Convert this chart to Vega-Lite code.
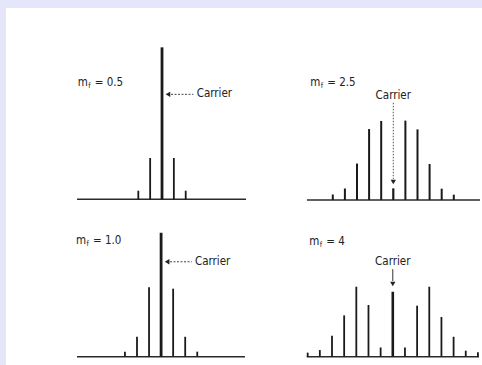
{
  "$schema": "https://vega.github.io/schema/vega-lite/v6.json",
  "width": 476,
  "height": 357,
  "autosize": "none",
  "padding": {"left": 6, "top": 8, "right": 0, "bottom": 0},
  "background": "#e6e6fa",
  "config": {"view": {"stroke": null, "fill": "white"}},
  "data": {"values": [
    {"panel": "A", "kind": "base", "x": -7.17, "x2": 7.09, "y": 0},
    {"panel": "A", "kind": "line", "x": -2, "y": 0.053},
    {"panel": "A", "kind": "line", "x": -1, "y": 0.255},
    {"panel": "A", "kind": "line", "x": 0, "y": 0.938},
    {"panel": "A", "kind": "line", "x": 1, "y": 0.255},
    {"panel": "A", "kind": "line", "x": 2, "y": 0.053},
    {"panel": "A", "kind": "arrow", "x": 0.76, "x2": 2.64, "y": 0.648},
    {"panel": "A", "kind": "head", "x": 0.5, "y": 0.648},
    {"panel": "A", "kind": "carrier", "x": 2.93, "y": 0.648, "text": "Carrier"},
    {"panel": "A", "kind": "label", "x": -7.11, "y": 0.72, "text": "= 0.5"},

    {"panel": "B", "kind": "base", "x": -7.13, "x2": 7.17, "y": 0},
    {"panel": "B", "kind": "line", "x": -5, "y": 0.034},
    {"panel": "B", "kind": "line", "x": -4, "y": 0.071},
    {"panel": "B", "kind": "line", "x": -3, "y": 0.225},
    {"panel": "B", "kind": "line", "x": -2, "y": 0.438},
    {"panel": "B", "kind": "line", "x": -1, "y": 0.488},
    {"panel": "B", "kind": "line", "x": 0, "y": 0.072},
    {"panel": "B", "kind": "line", "x": 1, "y": 0.49},
    {"panel": "B", "kind": "line", "x": 2, "y": 0.436},
    {"panel": "B", "kind": "line", "x": 3, "y": 0.222},
    {"panel": "B", "kind": "line", "x": 4, "y": 0.07},
    {"panel": "B", "kind": "line", "x": 5, "y": 0.033},
    {"panel": "B", "kind": "arrow", "x": 0, "y": 0.6, "y2": 0.13},
    {"panel": "B", "kind": "head", "x": 0, "y": 0.111},
    {"panel": "B", "kind": "carrier", "x": 0, "y": 0.64, "text": "Carrier"},
    {"panel": "B", "kind": "label", "x": -6.86, "y": 0.72, "text": "= 2.5"},

    {"panel": "C", "kind": "base", "x": -6.98, "x2": 6.96, "y": 0},
    {"panel": "C", "kind": "line", "x": -3, "y": 0.031},
    {"panel": "C", "kind": "line", "x": -2, "y": 0.123},
    {"panel": "C", "kind": "line", "x": -1, "y": 0.428},
    {"panel": "C", "kind": "line", "x": 0, "y": 0.765},
    {"panel": "C", "kind": "line", "x": 1, "y": 0.42},
    {"panel": "C", "kind": "line", "x": 2, "y": 0.123},
    {"panel": "C", "kind": "line", "x": 3, "y": 0.031},
    {"panel": "C", "kind": "arrow", "x": 0.74, "x2": 2.54, "y": 0.586},
    {"panel": "C", "kind": "head", "x": 0.5, "y": 0.586},
    {"panel": "C", "kind": "carrier", "x": 2.81, "y": 0.586, "text": "Carrier"},
    {"panel": "C", "kind": "label", "x": -7.06, "y": 0.716, "text": "= 1.0"},

    {"panel": "D", "kind": "base", "x": -7.08, "x2": 7.09, "y": 0},
    {"panel": "D", "kind": "line", "x": -7, "y": 0.025},
    {"panel": "D", "kind": "line", "x": -6, "y": 0.041},
    {"panel": "D", "kind": "line", "x": -5, "y": 0.13},
    {"panel": "D", "kind": "line", "x": -4, "y": 0.255},
    {"panel": "D", "kind": "line", "x": -3, "y": 0.432},
    {"panel": "D", "kind": "line", "x": -2, "y": 0.319},
    {"panel": "D", "kind": "line", "x": -1, "y": 0.057},
    {"panel": "D", "kind": "line", "x": 0, "y": 0.401},
    {"panel": "D", "kind": "line", "x": 1, "y": 0.057},
    {"panel": "D", "kind": "line", "x": 2, "y": 0.315},
    {"panel": "D", "kind": "line", "x": 3, "y": 0.432},
    {"panel": "D", "kind": "line", "x": 4, "y": 0.245},
    {"panel": "D", "kind": "line", "x": 5, "y": 0.123},
    {"panel": "D", "kind": "line", "x": 6, "y": 0.037},
    {"panel": "D", "kind": "line", "x": 7, "y": 0.028},
    {"panel": "D", "kind": "arrow", "x": 0, "y": 0.54, "y2": 0.467},
    {"panel": "D", "kind": "head", "x": 0, "y": 0.449},
    {"panel": "D", "kind": "carrier", "x": 0, "y": 0.586, "text": "Carrier"},
    {"panel": "D", "kind": "label", "x": -6.87, "y": 0.71, "text": "= 4"}
  ]},
  "resolve": {"scale": {"x": "independent", "y": "independent"}},
  "layer": [
    {
      "transform": [{"filter": "datum.panel === 'A'"}],
      "encoding": {
        "x": {"field": "x", "type": "quantitative", "scale": {"domain": [-13.165, 27.004], "nice": false, "zero": false}, "axis": null},
        "y": {"field": "y", "type": "quantitative", "scale": {"domain": [-1.0228, 1.1809], "nice": false, "zero": false}, "axis": null}
      },
      "layer": [
        {"transform": [{"filter": "datum.kind === 'base'"}], "mark": {"type": "rule", "color": "#2b2b2b", "strokeWidth": 1.6}, "encoding": {"x2": {"field": "x2"}}},
        {"transform": [{"filter": "datum.kind === 'line'"}], "mark": {"type": "rule", "color": "#1a1a1a", "strokeCap": "butt"}, "encoding": {"y2": {"datum": 0}, "strokeWidth": {"condition": {"test": "datum.x === 0", "value": 2.8}, "value": 1.8}}},
        {"transform": [{"filter": "datum.kind === 'arrow'"}], "mark": {"type": "rule", "color": "#444", "strokeWidth": 1, "strokeDash": [2, 1.5]}, "encoding": {"x2": {"field": "x2"}}},
        {"transform": [{"filter": "datum.kind === 'head'"}], "mark": {"type": "point", "shape": "triangle-left", "filled": true, "color": "#222", "opacity": 1, "size": 28}},
        {"transform": [{"filter": "datum.kind === 'carrier'"}], "mark": {"type": "text", "align": "left", "baseline": "middle", "font": "'Liberation Sans Narrow', 'DejaVu Sans Condensed', sans-serif", "fontSize": 11.5, "color": "#222"}, "encoding": {"text": {"field": "text"}}},
        {"transform": [{"filter": "datum.kind === 'label'"}], "mark": {"type": "text", "text": "m", "align": "left", "baseline": "middle", "font": "'Liberation Sans Narrow', 'DejaVu Sans Condensed', sans-serif", "fontSize": 11.5, "color": "#222"}},
        {"transform": [{"filter": "datum.kind === 'label'"}], "mark": {"type": "text", "text": "f", "align": "left", "baseline": "middle", "dx": 10.5, "dy": 3, "font": "'Liberation Sans Narrow', 'DejaVu Sans Condensed', sans-serif", "fontSize": 7.5, "color": "#222"}},
        {"transform": [{"filter": "datum.kind === 'label'"}], "mark": {"type": "text", "align": "left", "baseline": "middle", "dx": 17, "font": "'Liberation Sans Narrow', 'DejaVu Sans Condensed', sans-serif", "fontSize": 11.5, "color": "#222"}, "encoding": {"text": {"field": "text"}}}
      ]
    },
    {
      "transform": [{"filter": "datum.panel === 'B'"}],
      "encoding": {
        "x": {"field": "x", "type": "quantitative", "scale": {"domain": [-32.008, 7.331], "nice": false, "zero": false}, "axis": null},
        "y": {"field": "y", "type": "quantitative", "scale": {"domain": [-1.0185, 1.1852], "nice": false, "zero": false}, "axis": null}
      },
      "layer": [
        {"transform": [{"filter": "datum.kind === 'base'"}], "mark": {"type": "rule", "color": "#2b2b2b", "strokeWidth": 1.6}, "encoding": {"x2": {"field": "x2"}}},
        {"transform": [{"filter": "datum.kind === 'line'"}], "mark": {"type": "rule", "color": "#1a1a1a", "strokeCap": "butt"}, "encoding": {"y2": {"datum": 0}, "strokeWidth": {"condition": {"test": "datum.x === 0", "value": 2.2}, "value": 2}}},
        {"transform": [{"filter": "datum.kind === 'arrow'"}], "mark": {"type": "rule", "color": "#555", "strokeWidth": 1, "strokeDash": [1.5, 1.5]}, "encoding": {"y2": {"field": "y2"}}},
        {"transform": [{"filter": "datum.kind === 'head'"}], "mark": {"type": "point", "shape": "triangle-down", "filled": true, "color": "#222", "opacity": 1, "size": 28}},
        {"transform": [{"filter": "datum.kind === 'carrier'"}], "mark": {"type": "text", "align": "center", "baseline": "middle", "font": "'Liberation Sans Narrow', 'DejaVu Sans Condensed', sans-serif", "fontSize": 11.5, "color": "#222"}, "encoding": {"text": {"field": "text"}}},
        {"transform": [{"filter": "datum.kind === 'label'"}], "mark": {"type": "text", "text": "m", "align": "left", "baseline": "middle", "font": "'Liberation Sans Narrow', 'DejaVu Sans Condensed', sans-serif", "fontSize": 11.5, "color": "#222"}},
        {"transform": [{"filter": "datum.kind === 'label'"}], "mark": {"type": "text", "text": "f", "align": "left", "baseline": "middle", "dx": 10.5, "dy": 3, "font": "'Liberation Sans Narrow', 'DejaVu Sans Condensed', sans-serif", "fontSize": 7.5, "color": "#222"}},
        {"transform": [{"filter": "datum.kind === 'label'"}], "mark": {"type": "text", "align": "left", "baseline": "middle", "dx": 17, "font": "'Liberation Sans Narrow', 'DejaVu Sans Condensed', sans-serif", "fontSize": 11.5, "color": "#222"}, "encoding": {"text": {"field": "text"}}}
      ]
    },
    {
      "transform": [{"filter": "datum.panel === 'C'"}],
      "encoding": {
        "x": {"field": "x", "type": "quantitative", "scale": {"domain": [-12.871, 26.631], "nice": false, "zero": false}, "axis": null},
        "y": {"field": "y", "type": "quantitative", "scale": {"domain": [-0.05123, 2.15247], "nice": false, "zero": false}, "axis": null}
      },
      "layer": [
        {"transform": [{"filter": "datum.kind === 'base'"}], "mark": {"type": "rule", "color": "#2b2b2b", "strokeWidth": 1.6}, "encoding": {"x2": {"field": "x2"}}},
        {"transform": [{"filter": "datum.kind === 'line'"}], "mark": {"type": "rule", "color": "#1a1a1a", "strokeCap": "butt"}, "encoding": {"y2": {"datum": 0}, "strokeWidth": {"condition": {"test": "datum.x === 0", "value": 2.8}, "value": 1.8}}},
        {"transform": [{"filter": "datum.kind === 'arrow'"}], "mark": {"type": "rule", "color": "#444", "strokeWidth": 1, "strokeDash": [2, 1.5]}, "encoding": {"x2": {"field": "x2"}}},
        {"transform": [{"filter": "datum.kind === 'head'"}], "mark": {"type": "point", "shape": "triangle-left", "filled": true, "color": "#222", "opacity": 1, "size": 28}},
        {"transform": [{"filter": "datum.kind === 'carrier'"}], "mark": {"type": "text", "align": "left", "baseline": "middle", "font": "'Liberation Sans Narrow', 'DejaVu Sans Condensed', sans-serif", "fontSize": 11.5, "color": "#222"}, "encoding": {"text": {"field": "text"}}},
        {"transform": [{"filter": "datum.kind === 'label'"}], "mark": {"type": "text", "text": "m", "align": "left", "baseline": "middle", "font": "'Liberation Sans Narrow', 'DejaVu Sans Condensed', sans-serif", "fontSize": 11.5, "color": "#222"}},
        {"transform": [{"filter": "datum.kind === 'label'"}], "mark": {"type": "text", "text": "f", "align": "left", "baseline": "middle", "dx": 10.5, "dy": 3, "font": "'Liberation Sans Narrow', 'DejaVu Sans Condensed', sans-serif", "fontSize": 7.5, "color": "#222"}},
        {"transform": [{"filter": "datum.kind === 'label'"}], "mark": {"type": "text", "align": "left", "baseline": "middle", "dx": 17, "font": "'Liberation Sans Narrow', 'DejaVu Sans Condensed', sans-serif", "fontSize": 11.5, "color": "#222"}, "encoding": {"text": {"field": "text"}}}
      ]
    },
    {
      "transform": [{"filter": "datum.panel === 'D'"}],
      "encoding": {
        "x": {"field": "x", "type": "quantitative", "scale": {"domain": [-31.809, 7.336], "nice": false, "zero": false}, "axis": null},
        "y": {"field": "y", "type": "quantitative", "scale": {"domain": [-0.05123, 2.15247], "nice": false, "zero": false}, "axis": null}
      },
      "layer": [
        {"transform": [{"filter": "datum.kind === 'base'"}], "mark": {"type": "rule", "color": "#2b2b2b", "strokeWidth": 1.6}, "encoding": {"x2": {"field": "x2"}}},
        {"transform": [{"filter": "datum.kind === 'line'"}], "mark": {"type": "rule", "color": "#1a1a1a", "strokeCap": "butt"}, "encoding": {"y2": {"datum": 0}, "strokeWidth": {"condition": {"test": "datum.x === 0", "value": 2.6}, "value": 1.8}}},
        {"transform": [{"filter": "datum.kind === 'arrow'"}], "mark": {"type": "rule", "color": "#333", "strokeWidth": 1}, "encoding": {"y2": {"field": "y2"}}},
        {"transform": [{"filter": "datum.kind === 'head'"}], "mark": {"type": "point", "shape": "triangle-down", "filled": true, "color": "#222", "opacity": 1, "size": 28}},
        {"transform": [{"filter": "datum.kind === 'carrier'"}], "mark": {"type": "text", "align": "center", "baseline": "middle", "font": "'Liberation Sans Narrow', 'DejaVu Sans Condensed', sans-serif", "fontSize": 11.5, "color": "#222"}, "encoding": {"text": {"field": "text"}}},
        {"transform": [{"filter": "datum.kind === 'label'"}], "mark": {"type": "text", "text": "m", "align": "left", "baseline": "middle", "font": "'Liberation Sans Narrow', 'DejaVu Sans Condensed', sans-serif", "fontSize": 11.5, "color": "#222"}},
        {"transform": [{"filter": "datum.kind === 'label'"}], "mark": {"type": "text", "text": "f", "align": "left", "baseline": "middle", "dx": 10.5, "dy": 3, "font": "'Liberation Sans Narrow', 'DejaVu Sans Condensed', sans-serif", "fontSize": 7.5, "color": "#222"}},
        {"transform": [{"filter": "datum.kind === 'label'"}], "mark": {"type": "text", "align": "left", "baseline": "middle", "dx": 17, "font": "'Liberation Sans Narrow', 'DejaVu Sans Condensed', sans-serif", "fontSize": 11.5, "color": "#222"}, "encoding": {"text": {"field": "text"}}}
      ]
    }
  ]
}
